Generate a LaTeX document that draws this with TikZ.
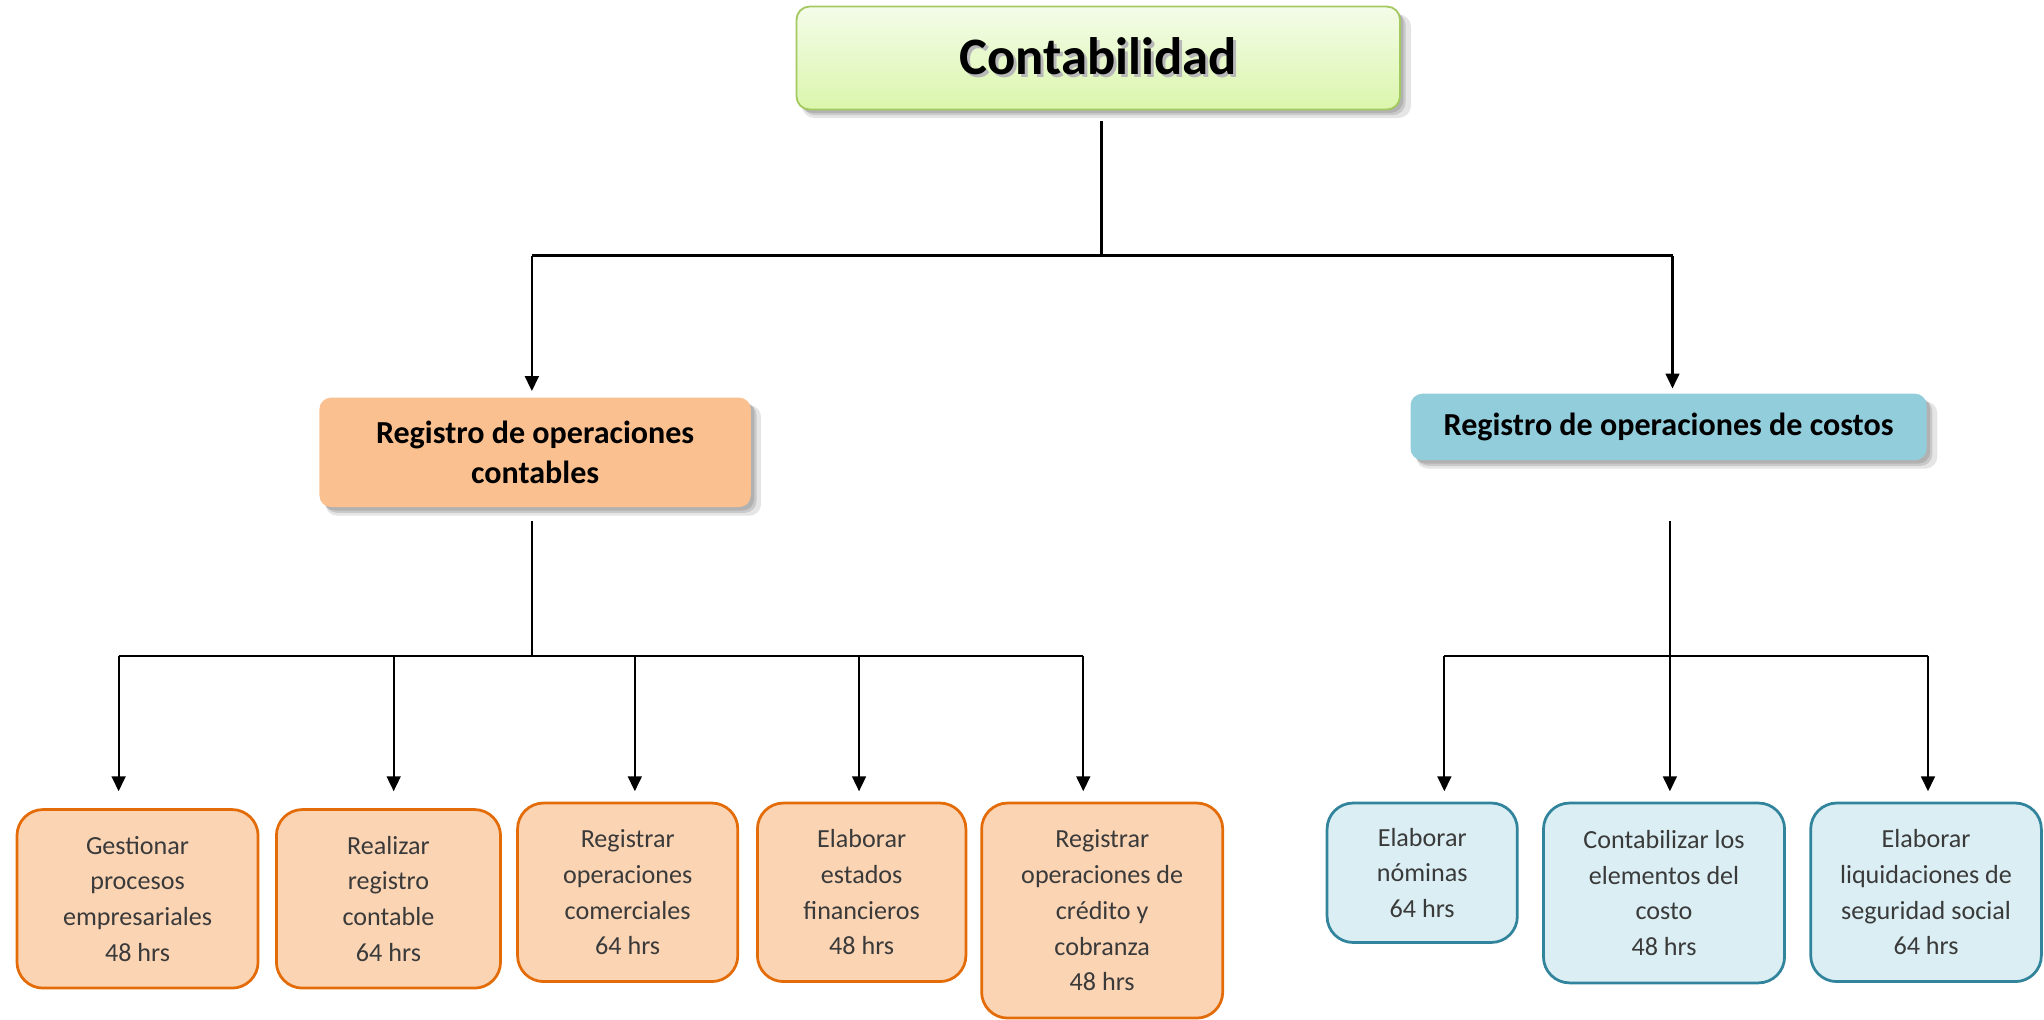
\documentclass[tikz,border=0pt]{standalone}
\usepackage{fontspec}
\setmainfont{Carlito}
\usetikzlibrary{arrows.meta,shadows}
\definecolor{topfillA}{HTML}{F4FCE9}
\definecolor{topfillB}{HTML}{DBF6AC}
\definecolor{topborder}{HTML}{A3C960}
\definecolor{peach}{HTML}{FAC08F}
\definecolor{peachlight}{HTML}{FBD4B4}
\definecolor{orangeborder}{HTML}{E36C09}
\definecolor{bluemid}{HTML}{92CDDC}
\definecolor{bluelight}{HTML}{DAEEF3}
\definecolor{blueborder}{HTML}{31849B}
\definecolor{txtgray}{HTML}{3A3A3A}
\begin{document}
\begin{tikzpicture}[x=0.02cm,y=-0.02cm,
  conn/.style={line width=0.95pt,black},
  arr/.style={conn,-{Triangle[width=6pt,length=6.5pt]}},
  softshadow/.style={
    drop shadow={shadow xshift=1.5pt,shadow yshift=-1.5pt,opacity=0.12,fill=black},
    drop shadow={shadow xshift=2.5pt,shadow yshift=-2.5pt,opacity=0.12,fill=black},
    drop shadow={shadow xshift=3.5pt,shadow yshift=-3.5pt,opacity=0.10,fill=black,shadow scale=1.01}},
  topbox/.style={rectangle,rounded corners=0.2cm,draw=topborder,line width=0.8pt,
    top color=topfillA,bottom color=topfillB,softshadow,
    font=\fontsize{23}{28}\selectfont\bfseries,align=center,inner sep=0pt},
  midbox/.style={rectangle,rounded corners=0.18cm,draw=none,softshadow,
    font=\fontsize{14}{17.6}\selectfont\bfseries,align=center,inner sep=0pt},
  leafbox/.style={rectangle,rounded corners=0.4cm,line width=1.2pt,
    font=\fontsize{11.4}{15.6}\selectfont,text=txtgray,align=center,inner sep=0pt},
  orangeleaf/.style={leafbox,fill=peachlight,draw=orangeborder},
  blueleaf/.style={leafbox,fill=bluelight,draw=blueborder}
]
\useasboundingbox (0,0) rectangle (1568,782);

% top
\node[topbox,minimum width=9.26cm,minimum height=1.58cm] (top) at (842.5,44.5)
  {\makebox[0pt][l]{\hspace{1.3pt}\raisebox{-1.3pt}{\color{black!28}Contabilidad}}Contabilidad};

% second level
\node[midbox,fill=peach,minimum width=6.62cm,minimum height=1.68cm] (rc) at (410.5,347)
  {Registro de operaciones\\contables};
\node[midbox,fill=bluemid,minimum width=7.92cm,minimum height=1.02cm] (rk) at (1280,327.5)
  {Registro de operaciones de costos};

% leaves
\node[orangeleaf,minimum width=3.7cm,minimum height=2.74cm] (b1) at (105.5,689.5)
  {Gestionar\\procesos\\empresariales\\48 hrs};
\node[orangeleaf,minimum width=3.44cm,minimum height=2.74cm] (b2) at (298,689.5)
  {Realizar\\registro\\contable\\64 hrs};
\node[orangeleaf,minimum width=3.38cm,minimum height=2.74cm] (b3) at (481.5,684.5)
  {Registrar\\operaciones\\comerciales\\64 hrs};
\node[orangeleaf,minimum width=3.2cm,minimum height=2.74cm] (b4) at (661,684.5)
  {Elaborar\\estados\\financieros\\48 hrs};
\node[orangeleaf,minimum width=3.7cm,minimum height=3.3cm] (b5) at (845.5,698.5)
  {Registrar\\operaciones de\\crédito y\\cobranza\\48 hrs};
\node[blueleaf,minimum width=2.92cm,minimum height=2.14cm] (c1) at (1091,669.5)
  {Elaborar\\nóminas\\64 hrs};
\node[blueleaf,minimum width=3.7cm,minimum height=2.76cm] (c2) at (1276.5,685)
  {Contabilizar los\\elementos del\\costo\\48 hrs};
\node[blueleaf,minimum width=3.54cm,minimum height=2.74cm] (c3) at (1477.5,684.5)
  {Elaborar\\liquidaciones de\\seguridad social\\64 hrs};

% connector coordinates
\coordinate (s0) at (845,93);
\coordinate (h0) at (845,196);
\coordinate (hl) at (408,196);
\coordinate (hr) at (1283,196);
\coordinate (tl) at (408,300);
\coordinate (tr) at (1283,298);

\coordinate (s1) at (408,400);
\coordinate (h1) at (408,503);
\coordinate (p1) at (91,503);
\coordinate (p2) at (302,503);
\coordinate (p3) at (487,503);
\coordinate (p4) at (659,503);
\coordinate (p5) at (831,503);
\coordinate (e1) at (91,607);
\coordinate (e2) at (302,607);
\coordinate (e3) at (487,607);
\coordinate (e4) at (659,607);
\coordinate (e5) at (831,607);

\coordinate (s2) at (1281,400);
\coordinate (h2) at (1281,503);
\coordinate (q1) at (1108,503);
\coordinate (q3) at (1479,503);
\coordinate (f1) at (1108,607);
\coordinate (f2) at (1281,607);
\coordinate (f3) at (1479,607);

% connectors
\draw[conn] (s0) -- (h0);
\draw[conn] (hl) -- (hr);
\draw[arr] (hl) -- (tl);
\draw[arr] (hr) -- (tr);

\draw[conn] (s1) -- (h1);
\draw[conn] (p1) -- (p5);
\draw[arr] (p1) -- (e1);
\draw[arr] (p2) -- (e2);
\draw[arr] (p3) -- (e3);
\draw[arr] (p4) -- (e4);
\draw[arr] (p5) -- (e5);

\draw[conn] (s2) -- (h2);
\draw[conn] (q1) -- (q3);
\draw[arr] (q1) -- (f1);
\draw[arr] (h2) -- (f2);
\draw[arr] (q3) -- (f3);
\end{tikzpicture}
\end{document}
